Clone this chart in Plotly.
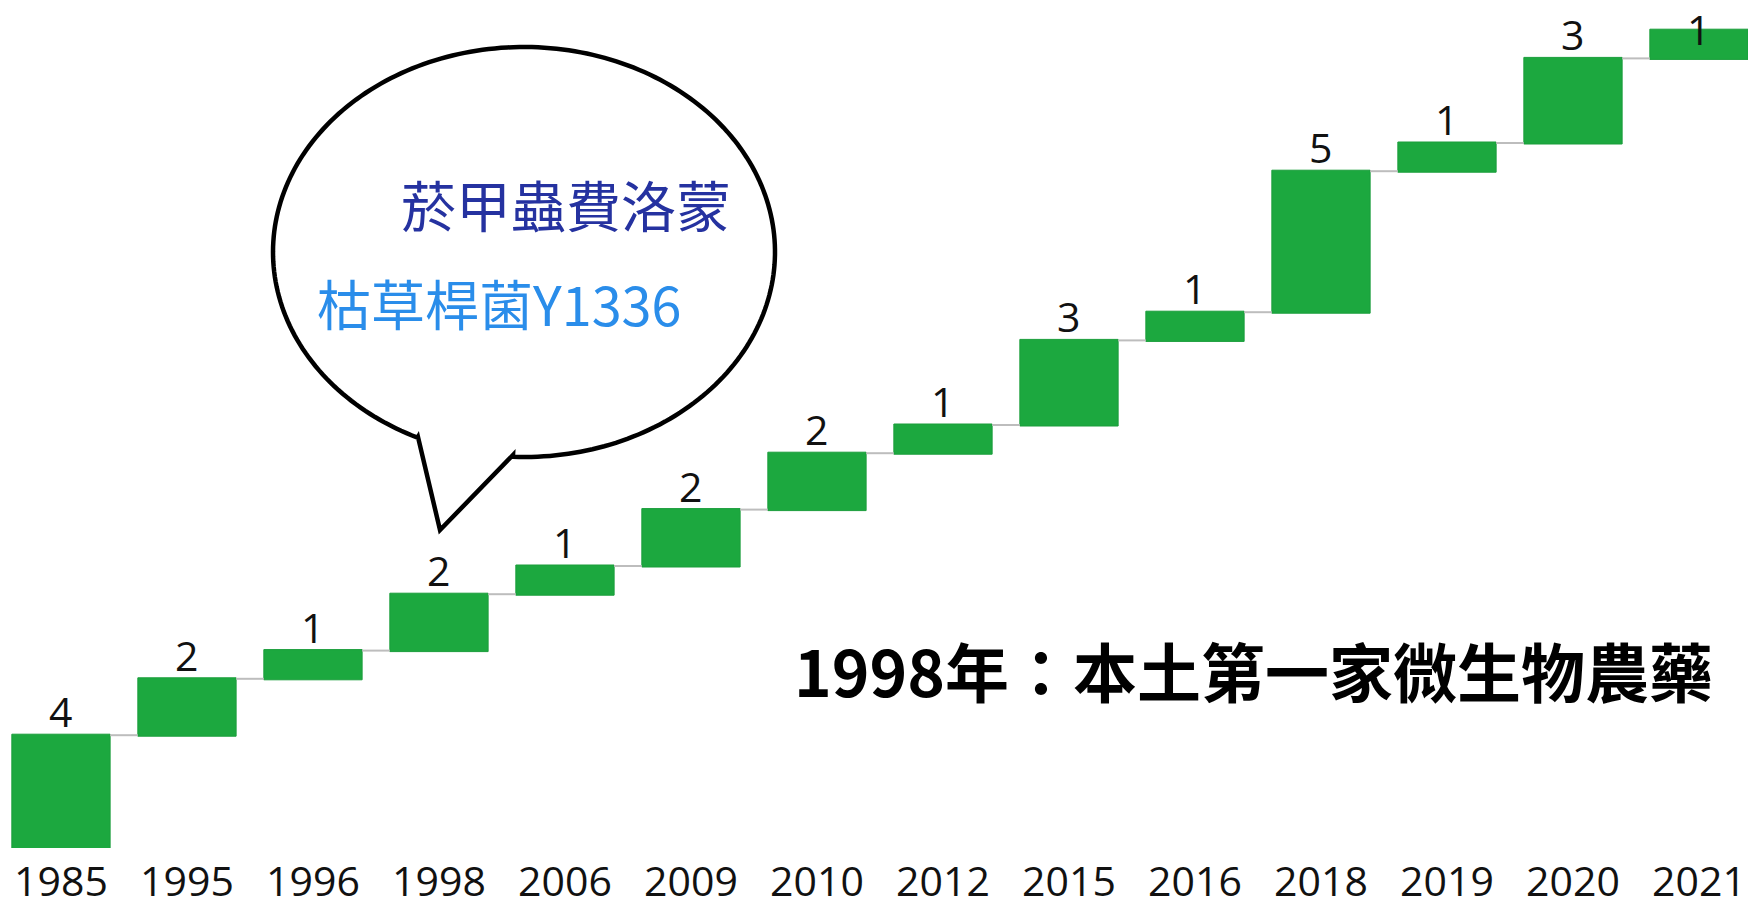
import numpy as np
import plotly.graph_objects as go

# Yearly additions (waterfall steps)
years = ["1985", "1995", "1996", "1998", "2006", "2009", "2010",
         "2012", "2015", "2016", "2018", "2019", "2020", "2021"]
added = [4, 2, 1, 2, 1, 2, 2, 1, 3, 1, 5, 1, 3, 1]

bubble_line1 = "菸甲蟲費洛蒙"
bubble_line2 = "枯草桿菌Y1336"
headline = "1998年：本土第一家微生物農藥"

W, H = 1748, 901
MB = 53                      # bottom margin for the year labels
PH = H - MB                  # plot height in px
PX_PER_UNIT = 28.2
Y_MAX = PH / PX_PER_UNIT

GREEN = "#1CA83F"
LABEL_FONT = dict(family="Open Sans, Noto Sans", size=41, color="#111111")

fig = go.Figure(go.Waterfall(
    x=years,
    y=added,
    measure=["relative"] * len(added),
    increasing=dict(marker=dict(color=GREEN, line=dict(color="#1a9d3b", width=1))),
    connector=dict(line=dict(color="#BDBDBD", width=2)),
    width=0.78,
    hoverinfo="skip",
))

# value labels above each step; the top one is nudged down to stay on the page
tops = np.cumsum(added)
for i, (v, top) in enumerate(zip(added, tops)):
    top_px = PH - float(top) * PX_PER_UNIT
    shift = float(min(24, top_px - 29))
    fig.add_annotation(x=i, y=float(top), xref="x", yref="y",
                       text=str(v), showarrow=False,
                       xanchor="center", yanchor="middle", yshift=shift,
                       font=LABEL_FONT)


def px2paper(px, py):
    return px / W, (PH - py) / PH


# speech bubble: ellipse with a pointed tail
cx, cy, rx, ry = 524, 252, 251, 205
p_left = (418, 437)
p_tip = (440, 530)
p_right = (513, 455)


def angle_of(p):
    return np.arctan2((p[1] - cy) / ry, (p[0] - cx) / rx)


a_start = angle_of(p_right)
a_end = angle_of(p_left)
if a_end <= a_start:
    a_end += 2 * np.pi
# go the long way round, from the right attach point to the left one
ts = np.linspace(a_start, a_start - (2 * np.pi - (a_end - a_start)), 240)
pts = [(cx + rx * np.cos(t), cy + ry * np.sin(t)) for t in ts]
pts += [p_left, p_tip, p_right]
path = ""
for i, (x, y) in enumerate(pts):
    u, v = px2paper(x, y)
    path += ("M" if i == 0 else "L") + f"{u:.5f},{v:.5f} "
path += "Z"

fig.add_shape(type="path", path=path, xref="paper", yref="paper",
              line=dict(color="#000000", width=4.5), fillcolor="white",
              layer="above")

ux, uy = px2paper(399, 203)
fig.add_annotation(text=bubble_line1, x=ux, y=uy, xref="paper", yref="paper",
                   xanchor="left", yanchor="middle", showarrow=False,
                   font=dict(family="Noto Sans CJK TC", size=55, color="#2532A0"))
ux, uy = px2paper(315, 302)
fig.add_annotation(text=bubble_line2, x=ux, y=uy, xref="paper", yref="paper",
                   xanchor="left", yanchor="middle", showarrow=False,
                   font=dict(family="Noto Sans CJK TC", size=54, color="#2A8DEA"))
ux, uy = px2paper(792, 669)
fig.add_annotation(text="<b>" + headline + "</b>", x=ux, y=uy,
                   xref="paper", yref="paper",
                   xanchor="left", yanchor="middle", showarrow=False,
                   font=dict(family="Noto Sans CJK TC", size=64, color="#000000"))

fig.update_layout(
    width=W, height=H, autosize=False,
    margin=dict(l=0, r=0, t=0, b=MB, pad=0, autoexpand=False),
    paper_bgcolor="white", plot_bgcolor="white",
    showlegend=False,
    xaxis=dict(type="category", range=[-0.484, 13.389], automargin=False,
               showgrid=False, zeroline=False,
               showline=False, ticks="", ticklabelstandoff=6,
               tickfont=dict(family="Open Sans, Noto Sans", size=41, color="#111111")),
    yaxis=dict(range=[0, Y_MAX], visible=False, automargin=False,
               showgrid=False, zeroline=False),
)

fig.write_html("out.html")
